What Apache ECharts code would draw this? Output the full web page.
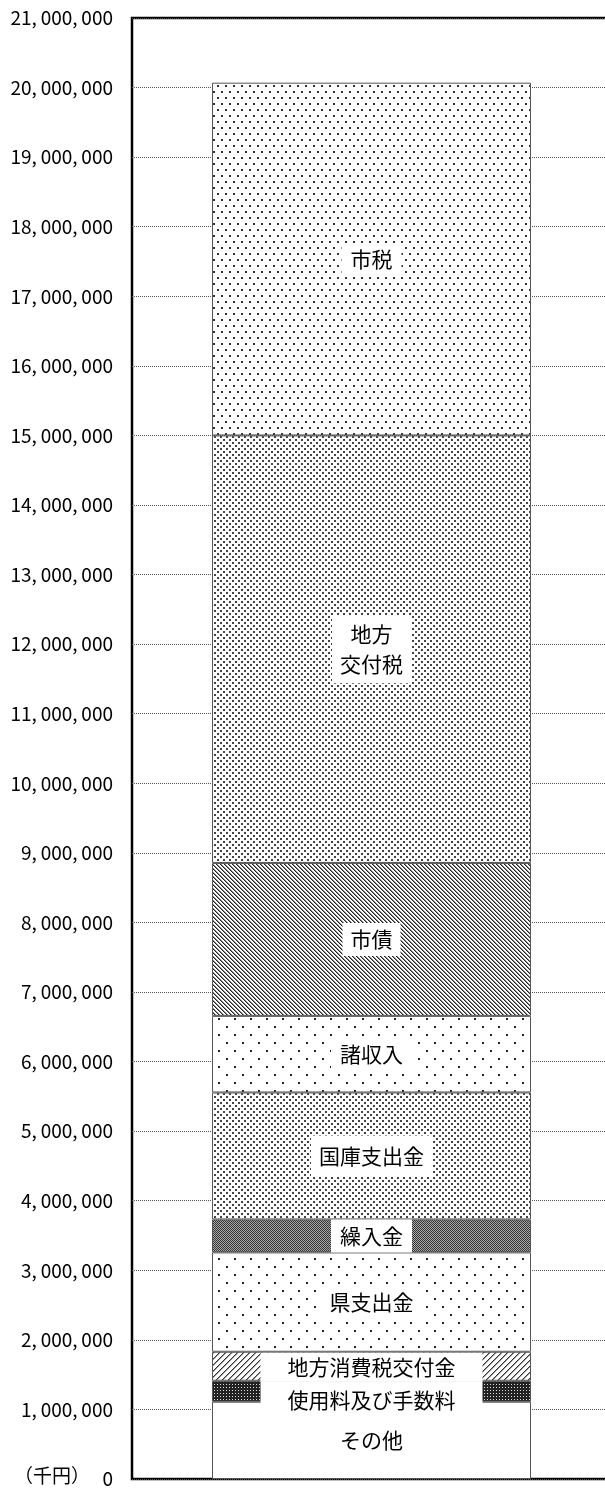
<!DOCTYPE html>
<html>
<head>
<meta charset="utf-8">
<script src="https://cdn.jsdelivr.net/npm/echarts@6/dist/echarts.min.js"></script>
<style>
html,body{margin:0;padding:0;background:#fff;}
#chart{width:605px;height:1492px;}
</style>
</head>
<body>
<div id="chart"></div>
<script>
// ---- data ----
const categories = ['歳入'];
const seriesNames = ['その他','使用料及び手数料','地方消費税交付金','県支出金','繰入金','国庫支出金','諸収入','市債','地方交付税','市税'];
const seriesValues = [1111000, 301000, 417000, 1428000, 474000, 1825000, 1101000, 2198000, 6145000, 5070000];
const labelTexts = ['その他','使用料及び手数料','地方消費税交付金','県支出金','繰入金','国庫支出金','諸収入','市債','地方\n交付税','市税'];
const yMin = 0, yMax = 21000000, yInterval = 1000000;
const unitLabel = '（千円）';

// ---- patterns ----
function pat(w, h, draw) {
  const c = document.createElement('canvas');
  c.width = w; c.height = h;
  const ctx = c.getContext('2d');
  ctx.fillStyle = '#fff'; ctx.fillRect(0, 0, w, h);
  draw(ctx);
  return { image: c, repeat: 'repeat' };
}
function dots(w, h, pts, col, s) {
  return pat(w, h, ctx => { ctx.fillStyle = col; pts.forEach(p => ctx.fillRect(p[0], p[1], s, s)); });
}
const pWhite = '#ffffff';
const pSparse = dots(16, 16, [[2,2],[10,10]], '#222', 2);
const pShizei = dots(8, 12, [[1,1],[5,7]], '#333', 2);
const pDense = dots(6, 6, [[1,1],[4,4]], '#444', 2);
const pBackslash = pat(4, 4, ctx => { for (let i = 0; i < 4; i++) { ctx.fillStyle = '#222'; ctx.fillRect(i, i, 1, 1); ctx.fillStyle = '#888'; ctx.fillRect((i + 1) % 4, i, 1, 1); } });
const pSlash = pat(6, 6, ctx => { ctx.fillStyle = '#333'; for (let i = 0; i < 6; i++) { ctx.fillRect(5 - i, i, 1, 1); } ctx.fillStyle = '#999'; for (let i = 0; i < 6; i++) { ctx.fillRect((6 - i) % 6, i, 1, 1); } });
const pKuri = pat(2, 2, ctx => { ctx.fillStyle = '#333'; ctx.fillRect(0, 0, 1, 1); ctx.fillRect(1, 1, 1, 1); ctx.fillStyle = '#aaa'; ctx.fillRect(1, 0, 1, 1); ctx.fillRect(0, 1, 1, 1); });
const pShiyo = pat(3, 3, ctx => { ctx.fillStyle = '#222'; ctx.fillRect(0, 0, 3, 3); ctx.fillStyle = '#ddd'; ctx.fillRect(1, 1, 1, 1); });
const fills = [pWhite, pShiyo, pSlash, pSparse, pKuri, pDense, pSparse, pBackslash, pDense, pShizei];

const FONT = '"Noto Sans CJK JP", "Noto Sans", sans-serif';
function labelFor(i) {
  const base = {
    show: true, position: 'inside', formatter: labelTexts[i],
    color: '#000', fontFamily: FONT, fontSize: 21,
    backgroundColor: '#fff', padding: [5, 9], lineHeight: 21
  };
  if (i === 0) { base.backgroundColor = 'transparent'; }
  if (i === 1) { Object.assign(base, { width: 222, height: 38, lineHeight: 38, padding: 0, offset: [0, 9] }); }
  if (i === 2) { Object.assign(base, { width: 222, height: 29, lineHeight: 29, padding: 0, offset: [0, 1] }); }
  if (i === 3) { Object.assign(base, { padding: [6, 9] }); }
  if (i === 4) { Object.assign(base, { padding: [6, 9] }); }
  if (i === 5) { Object.assign(base, { padding: [10, 8] }); }
  if (i === 6) { Object.assign(base, { padding: [7, 9] }); }
  if (i === 7) { Object.assign(base, { padding: [6, 8] }); }
  if (i === 8) { Object.assign(base, { padding: [4, 8], lineHeight: 30 }); }
  return base;
}

const series = seriesNames.map((name, i) => ({
  name, type: 'bar', stack: 'total', barWidth: 319,
  data: [seriesValues[i]],
  itemStyle: { color: fills[i], borderColor: '#555', borderWidth: 1 },
  label: labelFor(i),
  emphasis: { disabled: true },
  z: 2
}));

const chart = echarts.init(document.getElementById('chart'));
chart.setOption({
  animation: false,
  backgroundColor: '#fff',
  grid: { left: 132, top: 18, bottom: 13, width: 479, outerBoundsMode: 'none', containLabel: false, show: true, borderColor: '#000', borderWidth: 2.5, backgroundColor: 'transparent' },
  xAxis: { type: 'category', data: categories, axisLine: { show: false }, axisTick: { show: false }, axisLabel: { show: false }, splitLine: { show: false } },
  yAxis: {
    type: 'value', min: yMin, max: yMax, interval: yInterval,
    axisLine: { show: false }, axisTick: { show: false },
    axisLabel: {
      margin: 19, color: '#000', fontFamily: FONT, fontSize: 19,
      formatter: v => String(v).replace(/\B(?=(\d{3})+(?!\d))/g, ',\u2009')
    },
    splitLine: { show: true, lineStyle: { type: 'dotted', color: '#555', width: 1 } }
  },
  graphic: [{
    type: 'text', left: 14, top: 1466,
    style: { text: unitLabel, fill: '#000', font: '19px ' + FONT }
  }],
  series
});
</script>
</body>
</html>
